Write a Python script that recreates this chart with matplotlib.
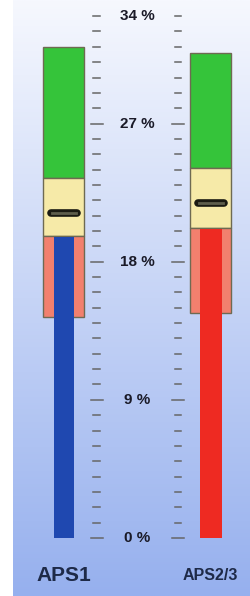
import numpy as np
import matplotlib
matplotlib.use('Agg')
import matplotlib.pyplot as plt

# gauge values, in percent
names = ['APS1', 'APS2/3']
green_top = [32.0, 31.6]
yellow_top = [23.45, 24.1]
salmon_top = [19.7, 20.2]
salmon_bottom = [14.4, 14.66]
level = [19.6, 20.1]
marker = [21.2, 21.8]
level_colors = ['#1f48b0', '#ee2a22']

tick_labels = ['0 %', '9 %', '18 %', '27 %', '34 %']
tick_values = [0, 9, 18, 27, 34]

plt.rcParams['font.family'] = ['Liberation Sans', 'DejaVu Sans']

fig = plt.figure(figsize=(2.5, 5.96), dpi=100)
ax = fig.add_axes([0, 0, 1, 1])
ax.set_xlim(0, 250)
ax.set_ylim(-3.78, 35.05)
ax.axis('off')

# background gradient
top = np.array([246, 248, 254]) / 255
bot = np.array([150, 176, 238]) / 255
t = np.linspace(0, 1, 256)[:, None]
grad = (top * (1 - t) + bot * t)[:, None, :]
ax.imshow(grad, extent=(13, 250, -3.78, 35.05), aspect='auto', zorder=0)

xs = [63.5, 210.5]
outer_w = 41
inner_w = [20, 22]
edge = '#6e6a52'

for i in range(2):
    x = xs[i]
    ax.bar(x, green_top[i] - yellow_top[i], bottom=yellow_top[i], width=outer_w,
           color='#35c43a', edgecolor=edge, linewidth=1, zorder=2)
    ax.bar(x, yellow_top[i] - salmon_top[i], bottom=salmon_top[i], width=outer_w,
           color='#f6eaa8', edgecolor=edge, linewidth=1, zorder=2)
    ax.bar(x, salmon_top[i] - salmon_bottom[i], bottom=salmon_bottom[i], width=outer_w,
           color='#f2806e', edgecolor=edge, linewidth=1, zorder=2)
    ax.bar(x, level[i], width=inner_w[i], color=level_colors[i], zorder=3)
    # marker
    ax.plot([x - 13, x + 13], [marker[i], marker[i]], color='#1a1a12', lw=5.5,
            solid_capstyle='round', zorder=4)
    ax.plot([x - 12, x + 12], [marker[i], marker[i]], color='#5e5e4c', lw=2,
            zorder=5)
    ax.text(x, -2.45, names[i], ha='center', va='center', color='#1e2a48',
            fontsize=15 if i == 0 else 11.5, fontweight='bold', zorder=6)

# scale ticks
minor = np.arange(0, 35)
major = [0, 9, 18, 27]
for xc, half_min, half_maj in [(96.5, 3.5, 6), (178, 3, 6)]:
    for v in minor:
        h = half_maj if v in major else half_min
        ax.plot([xc - h, xc + h], [v, v], color='#666666', lw=1.1, zorder=2)

for v, lab in zip(tick_values, tick_labels):
    ax.text(137, v, lab, ha='center', va='center', fontsize=11, fontweight='bold',
            color='#1a1a28', zorder=6)

fig.savefig('out.png', dpi=100)
